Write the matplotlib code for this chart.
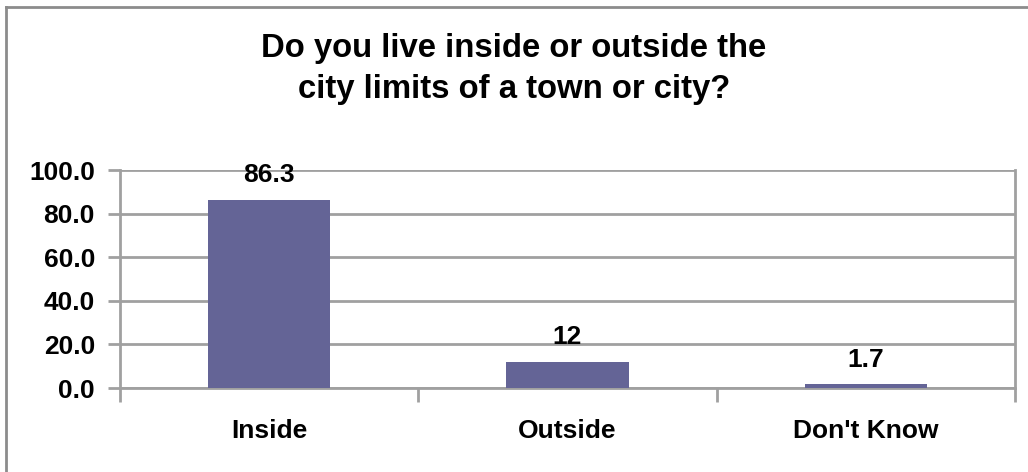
""" Bar chart: living inside or outside city limits. """

import matplotlib
matplotlib.use('Agg')
import matplotlib.pyplot as plt
from matplotlib.lines import Line2D

categories = ['Inside', 'Outside', "Don't Know"]
values = [86.3, 12, 1.7]
value_labels = ['86.3', '12', '1.7']
y_ticks = [0, 20, 40, 60, 80, 100]

plt.rcParams['font.family'] = ['Liberation Sans', 'DejaVu Sans']
plt.rcParams['font.weight'] = 'bold'

W, H = 1028, 472
fig = plt.figure(figsize=(W / 100, H / 100), dpi=100)
ax = fig.add_axes([120 / W, 1 - 388 / H, (1015 - 120) / W, (388 - 170) / H])

grid_col = '#a0a0a0'
positions = [i + 0.5 for i in range(len(categories))]
ax.bar(positions, values, width=0.41, color='#646496', zorder=3)
for x, v, lab in zip(positions, values, value_labels):
    ax.annotate(lab, (x, v), xytext=(0, 9), textcoords='offset points',
                ha='center', va='bottom', fontsize=19, fontweight='bold', zorder=4)

ax.set_xlim(0, 3)
ax.set_ylim(0, 100)
ax.set_yticks(y_ticks)
ax.set_yticklabels([f'{t:.1f}' for t in y_ticks])
ax.yaxis.grid(True, color=grid_col, linewidth=2, zorder=0)
ax.set_xticks(positions)
ax.set_xticklabels(categories)
ax.set_xticks([0, 1, 2, 3], minor=True)
ax.tick_params(axis='x', which='major', length=0, pad=22, labelsize=19)
ax.tick_params(axis='x', which='minor', length=10, width=2, color=grid_col, direction='out')
ax.tick_params(axis='y', length=9, width=2, color=grid_col, pad=9, labelsize=19)
for side in ['left', 'bottom', 'right']:
    ax.spines[side].set_color(grid_col)
    ax.spines[side].set_linewidth(2)
ax.spines['top'].set_visible(False)

fig.text(0.5, 1 - 69 / H, 'Do you live inside or outside the\ncity limits of a town or city?',
         ha='center', va='center', fontsize=23.7, fontweight='bold', linespacing=1.42)

# outer chart frame (only left and top edges show in the crop)
fig.add_artist(Line2D([6 / W, 6 / W], [0, 1 - 7 / H], color='#8c8c8c', linewidth=2))
fig.add_artist(Line2D([6 / W, 1], [1 - 7 / H, 1 - 7 / H], color='#8c8c8c', linewidth=2))

fig.savefig('out.png', dpi=100)
